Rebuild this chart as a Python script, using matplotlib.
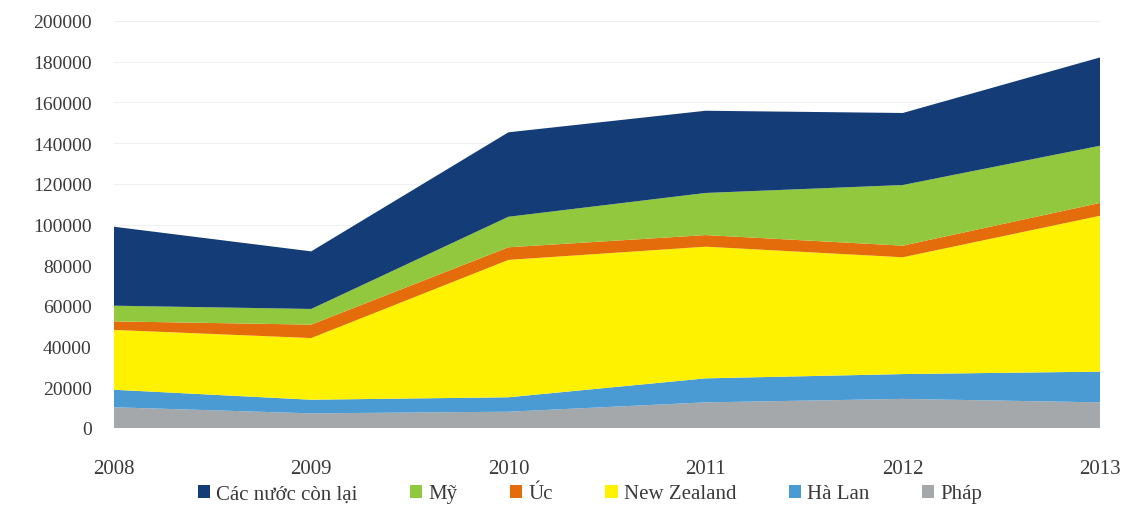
import matplotlib
matplotlib.use("Agg")
import matplotlib.pyplot as plt
from matplotlib.patches import Patch

# Data
years = [2008, 2009, 2010, 2011, 2012, 2013]
phap = [10200, 7200, 8000, 12600, 14300, 12600]
ha_lan = [8600, 6700, 7100, 11800, 12200, 15100]
new_zealand = [29400, 30300, 67500, 64700, 57400, 76600]
uc = [4200, 6600, 6200, 5700, 5700, 6300]
my = [7700, 7700, 15000, 20700, 29800, 28100]
con_lai = [38800, 28300, 41500, 40400, 35400, 43400]

labels = ["Pháp", "Hà Lan", "New Zealand", "Úc", "Mỹ", "Các nước còn lại"]
colors = ["#a5a8ab", "#4a9bd4", "#fff200", "#e46c0a", "#92c83e", "#143d78"]
yticks = list(range(0, 200001, 20000))

TEXT = "#3a3a3a"
FONT = "Liberation Serif"

fig = plt.figure(figsize=(11.28, 5.06), dpi=100)
ax = fig.add_axes([114 / 1128, 1 - 429 / 506, (1100 - 114) / 1128, (429 - 22) / 506])

ax.stackplot(years, phap, ha_lan, new_zealand, uc, my, con_lai,
             colors=colors, linewidth=0, zorder=2)

ax.set_xlim(2008, 2013)
ax.set_ylim(0, 200000)
ax.set_yticks(yticks)
ax.set_yticklabels([str(v) for v in yticks], fontsize=14, color=TEXT, family=FONT)
ax.set_xticks(years)
ax.set_xticklabels([str(y) for y in years], fontsize=15, color=TEXT, family=FONT)
ax.tick_params(axis="y", length=0, pad=16)
ax.tick_params(axis="x", length=0, pad=22)
ax.grid(axis="y", color="#edf1f4", linewidth=0.8, zorder=0)
for s in ax.spines.values():
    s.set_visible(False)

# Legend order as in the reference
order = [5, 4, 3, 2, 1, 0]
handles = [Patch(facecolor=colors[i], edgecolor="none") for i in order]
leg = fig.legend(handles, [labels[i] for i in order], loc="center",
                 bbox_to_anchor=(590 / 1128, 1 - 495 / 506), ncol=6,
                 frameon=False, handlelength=0.6, handleheight=0.6,
                 handletextpad=0.3, columnspacing=2.5,
                 prop={"family": FONT, "size": 15})
for t in leg.get_texts():
    t.set_color(TEXT)

fig.savefig("out.png", dpi=100, facecolor="white")
